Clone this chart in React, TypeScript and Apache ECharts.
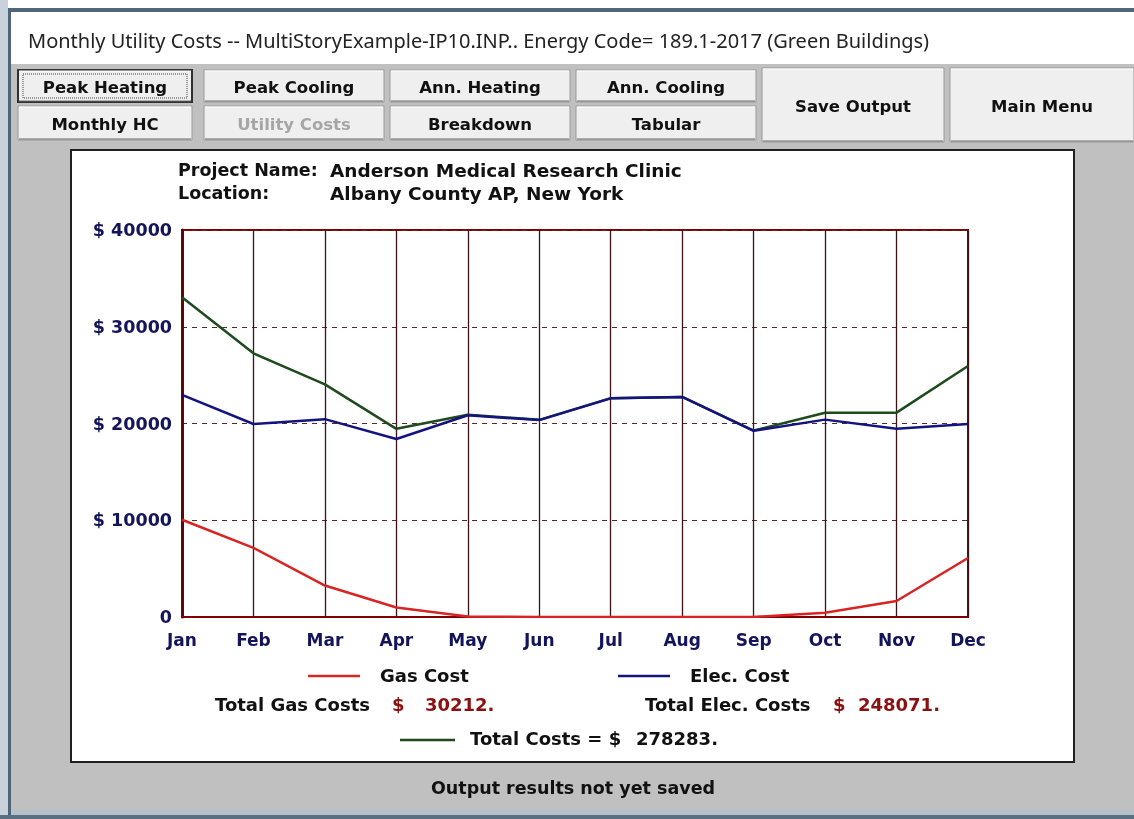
import React, { useEffect, useRef } from "react";
import * as echarts from "echarts";

const months = ["Jan", "Feb", "Mar", "Apr", "May", "Jun", "Jul", "Aug", "Sep", "Oct", "Nov", "Dec"];
const gasCost = [10050, 7150, 3250, 980, 50, 0, 0, 0, 0, 450, 1650, 6100];
const elecCost = [22950, 19950, 20450, 18400, 20850, 20350, 22600, 22750, 19250, 20400, 19450, 19950];
const totalCost = [33050, 27250, 24050, 19450, 20900, 20380, 22620, 22750, 19270, 21120, 21120, 25950];
const yTicks = { min: 0, max: 40000, interval: 10000 };

const titleText = "Monthly Utility Costs -- MultiStoryExample-IP10.INP.. Energy Code= 189.1-2017 (Green Buildings)";
const projectName = "Anderson Medical Research Clinic";
const locationName = "Albany County AP, New York";
const totalGas = "30212.";
const totalElec = "248071.";
const totalAll = "278283.";

const buttons = [
  { label: "Peak Heating", x: 18, y: 70, w: 174, h: 32, focus: true },
  { label: "Peak Cooling", x: 204, y: 70, w: 180, h: 32 },
  { label: "Ann. Heating", x: 390, y: 70, w: 180, h: 32 },
  { label: "Ann. Cooling", x: 576, y: 70, w: 180, h: 32 },
  { label: "Monthly HC", x: 18, y: 106, w: 174, h: 34 },
  { label: "Utility Costs", x: 204, y: 106, w: 180, h: 34, disabled: true },
  { label: "Breakdown", x: 390, y: 106, w: 180, h: 34 },
  { label: "Tabular", x: 576, y: 106, w: 180, h: 34 },
  { label: "Save Output", x: 762, y: 68, w: 182, h: 74 },
  { label: "Main Menu", x: 950, y: 68, w: 184, h: 74 },
];

const BF = '"DejaVu Sans", sans-serif';

function txt(text: string, x: number, y: number, fill: string, size: number, align = "left", bold = true, z = 20) {
  return {
    type: "text",
    x,
    y,
    z,
    style: {
      text,
      fill,
      font: `${bold ? "bold " : ""}${size}px ${BF}`,
      align,
      verticalAlign: "middle",
      textAlign: align,
      textVerticalAlign: "middle",
    },
  };
}

export default function App() {
  const ref = useRef<HTMLDivElement>(null);
  useEffect(() => {
    document.body.style.margin = "0";
    const chart = echarts.init(ref.current!, null, { renderer: "svg" });
    const graphics: any[] = [];
    // window chrome
    graphics.push({ type: "rect", z: -20, shape: { x: 0, y: 0, width: 1134, height: 819 }, style: { fill: "#c0c0c0" } });
    graphics.push({ type: "rect", z: -19, shape: { x: 0, y: 0, width: 1134, height: 8 }, style: { fill: "#ffffff" } });
    graphics.push({ type: "rect", z: -19, shape: { x: 0, y: 8, width: 1134, height: 4 }, style: { fill: "#4f6678" } });
    graphics.push({ type: "rect", z: -19, shape: { x: 0, y: 0, width: 8, height: 819 }, style: { fill: "#c9d2da" } });
    graphics.push({ type: "rect", z: -19, shape: { x: 8, y: 8, width: 3, height: 811 }, style: { fill: "#4f6678" } });
    graphics.push({ type: "rect", z: -19, shape: { x: 11, y: 12, width: 1123, height: 52 }, style: { fill: "#ffffff" } });
    graphics.push({ type: "rect", z: -19, shape: { x: 11, y: 810, width: 1123, height: 5 }, style: { fill: "#b4c0ca" } });
    graphics.push({ type: "rect", z: -19, shape: { x: 0, y: 815, width: 1134, height: 4 }, style: { fill: "#5a7080" } });
    graphics.push({
      type: "text", x: 28, y: 40, z: 20,
      style: { text: titleText, fill: "#222222", font: '20px "Noto Sans", sans-serif', textVerticalAlign: "middle", verticalAlign: "middle" },
    });
    // buttons
    buttons.forEach((b: any) => {
      graphics.push({ type: "rect", z: -15, shape: { x: b.x, y: b.y, width: b.w, height: b.h }, style: { fill: "#efefef", stroke: b.focus ? "#303030" : "#9a9a9a", lineWidth: b.focus ? 2 : 1 } });
      graphics.push({ type: "line", z: -14, shape: { x1: b.x + 1, y1: b.y + 1, x2: b.x + b.w - 1, y2: b.y + 1 }, style: { stroke: "#ffffff", lineWidth: 1 } });
      graphics.push({ type: "line", z: -14, shape: { x1: b.x + 1, y1: b.y + b.h - 1, x2: b.x + b.w - 1, y2: b.y + b.h - 1 }, style: { stroke: "#6a6a6a", lineWidth: 1 } });
      if (b.focus) {
        graphics.push({ type: "rect", z: -13, shape: { x: b.x + 5, y: b.y + 4, width: b.w - 10, height: b.h - 8 }, style: { fill: "none", stroke: "#404040", lineWidth: 1, lineDash: [1, 1] } });
      }
      graphics.push(txt(b.label, b.x + b.w / 2, b.y + b.h / 2 + 1, b.disabled ? "#a6a6a6" : "#111111", 16.5, "center"));
    });
    // chart panel
    graphics.push({ type: "rect", z: -12, shape: { x: 71, y: 150, width: 1003, height: 612 }, style: { fill: "#ffffff", stroke: "#202020", lineWidth: 2 } });
    graphics.push(txt("Project Name:", 178, 170, "#111111", 17.5));
    graphics.push(txt(projectName, 330, 170, "#111111", 18.5));
    graphics.push(txt("Location:", 178, 193, "#111111", 17.5));
    graphics.push(txt(locationName, 330, 193, "#111111", 18.5));
    // legend
    graphics.push({ type: "line", z: 20, shape: { x1: 308, y1: 676, x2: 360, y2: 676 }, style: { stroke: "#d02828", lineWidth: 2.5 } });
    graphics.push(txt("Gas Cost", 380, 675, "#111111", 18));
    graphics.push({ type: "line", z: 20, shape: { x1: 618, y1: 676, x2: 670, y2: 676 }, style: { stroke: "#141480", lineWidth: 2.5 } });
    graphics.push(txt("Elec. Cost", 690, 675, "#111111", 18));
    graphics.push(txt("Total Gas Costs", 215, 704, "#111111", 18));
    graphics.push(txt("$", 392, 704, "#8b1010", 18));
    graphics.push(txt(totalGas, 425, 704, "#8b1010", 18));
    graphics.push(txt("Total Elec. Costs", 645, 704, "#111111", 18));
    graphics.push(txt("$", 833, 704, "#8b1010", 18));
    graphics.push(txt(totalElec, 858, 704, "#8b1010", 18));
    graphics.push({ type: "line", z: 20, shape: { x1: 400, y1: 740, x2: 455, y2: 740 }, style: { stroke: "#1e4a1e", lineWidth: 2.5 } });
    graphics.push(txt("Total Costs = $", 470, 738, "#111111", 18));
    graphics.push(txt(totalAll, 636, 738, "#111111", 18));
    graphics.push(txt("Output results not yet saved", 573, 788, "#111111", 17.5, "center"));

    chart.setOption({
      animation: false,
      backgroundColor: "transparent",
      graphic: graphics,
      grid: { left: 182, right: 166, top: 230, bottom: 202, show: true, borderColor: "#800000", borderWidth: 2, backgroundColor: "transparent" },
      xAxis: {
        type: "category",
        data: months,
        boundaryGap: false,
        axisLine: { show: true, lineStyle: { color: "#800000", width: 2 } },
        axisTick: { show: false },
        axisLabel: { color: "#14145a", fontFamily: BF, fontWeight: "bold", fontSize: 17, margin: 14 },
        splitLine: { show: true, lineStyle: { color: "#3a1414", width: 1.3, type: "solid" } },
      },
      yAxis: {
        type: "value",
        min: yTicks.min,
        max: yTicks.max,
        interval: yTicks.interval,
        axisLine: { show: true, lineStyle: { color: "#5a0a0a", width: 3 } },
        axisTick: { show: false },
        axisLabel: {
          color: "#14145a", fontFamily: BF, fontWeight: "bold", fontSize: 17.5, margin: 10,
          formatter: (v: number) => (v === 0 ? "0" : "$ " + v),
        },
        splitLine: { show: true, lineStyle: { color: "#5a2a2a", width: 1, type: [5, 5] } },
      },
      series: [
        { name: "Total Cost", type: "line", data: totalCost, showSymbol: false, symbol: "none", lineStyle: { color: "#1e4a1e", width: 2.5 }, z: 3 },
        { name: "Elec. Cost", type: "line", data: elecCost, showSymbol: false, symbol: "none", lineStyle: { color: "#141480", width: 2.5 }, z: 4 },
        { name: "Gas Cost", type: "line", data: gasCost, showSymbol: false, symbol: "none", lineStyle: { color: "#d82424", width: 2.5 }, z: 5 },
      ],
    });
    return () => chart.dispose();
  }, []);
  return <div ref={ref} style={{ position: "fixed", left: 0, top: 0, width: 1134, height: 819 }} />;
}
